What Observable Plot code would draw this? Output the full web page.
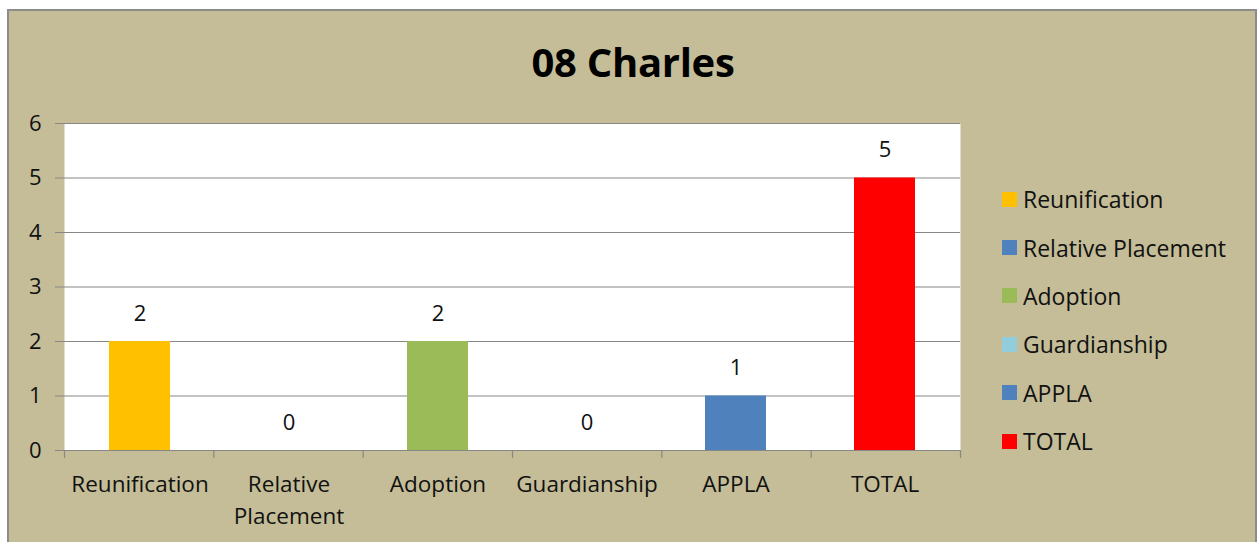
<!DOCTYPE html>
<html>
<head>
<meta charset="utf-8">
<script src="https://cdn.jsdelivr.net/npm/d3@7"></script>
<script src="https://cdn.jsdelivr.net/npm/@observablehq/plot@0.6"></script>
<style>
  html, body { margin: 0; padding: 0; background: #ffffff; }
  #wrap { position: relative; width: 1257px; height: 542px; overflow: hidden; font-family: "Open Sans", sans-serif; }
  #panel { position: absolute; left: 7px; top: 9px; width: 1246px; height: 560px; background: #C4BD97; border: 2px solid #8C8C8C; }
  #title { position: absolute; left: 0; width: 1266px; top: 35px; text-align: center; font-size: 40px; font-weight: bold; color: #000; line-height: 54px; letter-spacing: -0.3px; }
  #legend { position: absolute; left: 1002px; top: 175px; }
  .li { display: flex; align-items: center; height: 48.4px; margin: 0; font-size: 23px; color: #111; }
  .sw { width: 15px; height: 15px; margin-right: 6px; }
  svg { position: absolute; left: 0; top: 0; }
</style>
</head>
<body>
<div id="wrap">
  <div id="panel"></div>
  <div id="title">08 Charles</div>
  <div id="legend"></div>
</div>
<script>
const categories = ["Reunification", "Relative Placement", "Adoption", "Guardianship", "APPLA", "TOTAL"];
const tickLabels = ["Reunification", "Relative\nPlacement", "Adoption", "Guardianship", "APPLA", "TOTAL"];
const values = [2, 0, 2, 0, 1, 5];
const colors = ["#FFC000", "#4F81BD", "#9BBB59", "#92CDDC", "#4F81BD", "#FF0000"];
const yTicks = [0, 1, 2, 3, 4, 5, 6];

const data = categories.map((c, i) => ({category: c, value: values[i], color: colors[i]}));
const labelOf = new Map(categories.map((c, i) => [c, tickLabels[i]]));
const font = "'Open Sans', sans-serif";
const frame = {width: 1257, height: 542, marginLeft: 64, marginRight: 297, marginTop: 123, marginBottom: 92};

const chart = Plot.plot({
  ...frame,
  style: {background: "transparent", fontFamily: font, color: "#111"},
  x: {type: "band", domain: categories, paddingInner: 0.59, paddingOuter: 0.295},
  y: {type: "linear", domain: [0, 6]},
  marks: [
    Plot.frame({fill: "white", stroke: null}),
    Plot.gridY(yTicks, {stroke: "#878787", strokeOpacity: 1, strokeWidth: 1}),
    Plot.barY(data, {x: "category", y: "value", fill: "color"}),
    Plot.ruleY([0], {stroke: "#878787", strokeWidth: 1.2}),
    Plot.axisY(yTicks, {tickSize: 9, tickPadding: 14, fontSize: 22, stroke: "#878787", color: "#111", tickFormat: d => String(d), label: null}),
    Plot.axisX({tickSize: 0, tickPadding: 19, fontSize: 22.5, lineHeight: 1.42, tickFormat: d => labelOf.get(d), label: null}),
    Plot.text(data, {x: "category", y: "value", text: d => String(d.value), dy: -28, fontSize: 22, fill: "#111"})
  ]
});

// category boundary tick marks below the axis
const n = categories.length;
const boundary = Plot.plot({
  ...frame,
  style: {background: "transparent"},
  x: {domain: [0, n], axis: null},
  y: {domain: [0, 6], axis: null},
  marks: [
    Plot.ruleX(d3.range(n + 1), {x: d => d, y1: 0, y2: 0, stroke: "#878787", strokeWidth: 1.2, insetBottom: -8})
  ]
});

const wrap = document.getElementById("wrap");
wrap.appendChild(chart);
wrap.appendChild(boundary);

const legend = document.getElementById("legend");
categories.forEach((c, i) => {
  const row = document.createElement("div");
  row.className = "li";
  const sw = document.createElement("div");
  sw.className = "sw";
  sw.style.background = colors[i];
  const t = document.createElement("span");
  t.textContent = c;
  row.appendChild(sw); row.appendChild(t);
  legend.appendChild(row);
});
</script>
</body>
</html>
